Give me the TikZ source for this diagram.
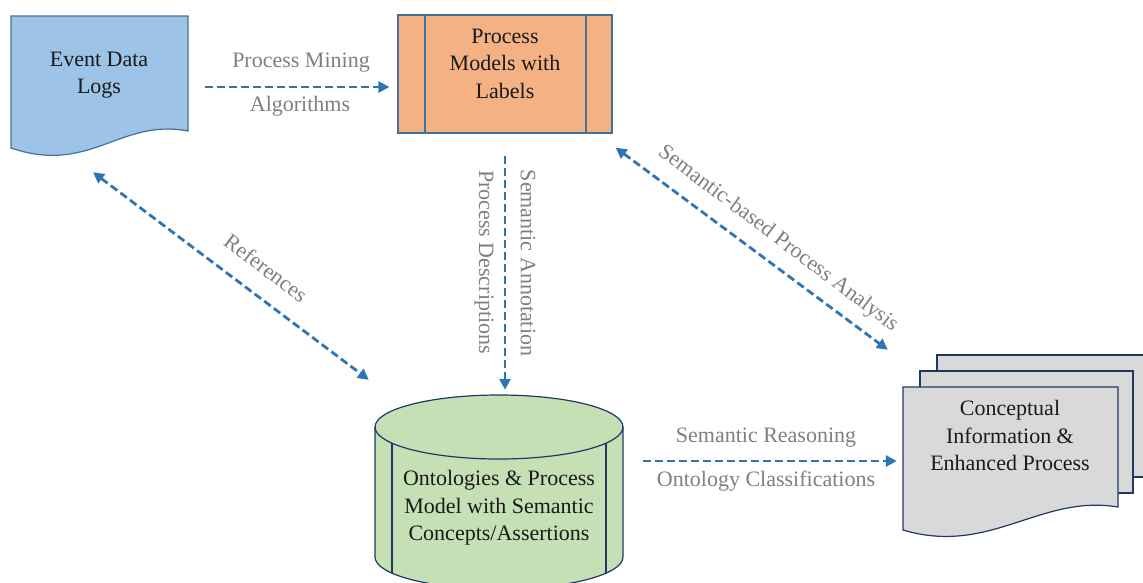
\documentclass[tikz,border=0pt]{standalone}
\usepackage{fontspec}
\setmainfont{Liberation Serif}
\usetikzlibrary{arrows.meta,calc}
\definecolor{logfill}{HTML}{9DC3E6}
\definecolor{logdraw}{HTML}{41719C}
\definecolor{pmfill}{HTML}{F4B183}
\definecolor{pmdraw}{HTML}{41719C}
\definecolor{cylfill}{HTML}{C5E0B4}
\definecolor{navy}{HTML}{203864}
\definecolor{docfill}{HTML}{D9D9D9}
\definecolor{arrblue}{HTML}{2E75B6}
\definecolor{lblgray}{HTML}{7F7F7F}
\definecolor{txt}{HTML}{1A1A1A}
\begin{document}
\begin{tikzpicture}[x=1pt,y=-1pt,
  every node/.style={font=\fontsize{22}{27.5}\selectfont, inner sep=0pt},
  boxtext/.style={text=txt, align=center},
  lbl/.style={text=lblgray, align=center},
  hold/.style={draw=none, fill=none},
  arr/.style={draw=arrblue, line width=2.8pt, dash pattern=on 8pt off 4pt,
    -{Triangle[length=11pt,width=11pt]}},
  darr/.style={draw=arrblue, line width=2.8pt, dash pattern=on 8pt off 4pt,
    {Triangle[length=11pt,width=11pt]}-{Triangle[length=11pt,width=11pt]}},
  shp/.style={line width=1.2pt, line join=miter}
]
\useasboundingbox (0,0) rectangle (1143,582);

% ---- Event Data Logs (document shape)
\draw[shp, fill=logfill, draw=logdraw]
  (11,16) -- (188,16) -- (188,131)
  .. controls (120,118) and (90,175) .. (11,148) -- cycle;
\node[hold, minimum width=177pt, minimum height=134pt] (logs) at (99.5,83) {};
\node[boxtext] (logst) at (99,75) {Event Data\\Logs};

% ---- Process Models with Labels
\node[shp, draw=pmdraw, fill=pmfill, minimum width=214pt, minimum height=118pt] (pm) at (505,74) {};
\draw[shp, draw=pmdraw] (425,15) -- (425,133);
\draw[shp, draw=pmdraw] (586,15) -- (586,133);
\node[boxtext] (pmt) at (505,63.5) {Process\\Models with\\Labels};

% ---- Cylinder
\draw[shp, draw=navy, fill=cylfill]
  (375,427) -- (375,557) arc[start angle=180, end angle=0, x radius=124, y radius=32]
  -- (623,427) arc[start angle=0, end angle=-180, x radius=124, y radius=32] -- cycle;
\draw[shp, draw=navy]
  (375,427) arc[start angle=180, end angle=0, x radius=124, y radius=32];
\draw[shp, draw=navy] (392,443.2) -- (392,573);
\draw[shp, draw=navy] (606,443.2) -- (606,573);
\node[hold, minimum width=248pt, minimum height=187pt] (cyl) at (499,488.5) {};
\node[boxtext] (cylt) at (499,508) {Ontologies \& Process\\Model with Semantic\\Concepts/Assertions};

% ---- Multi-document
\draw[shp, draw=navy, fill=docfill] (937,355) rectangle (1170,477);
\draw[shp, draw=navy, fill=docfill] (920,371) rectangle (1133,493);
\draw[shp, draw=navy, fill=docfill]
  (903,387) -- (1118,387) -- (1118,507)
  .. controls (1040,494) and (990,556) .. (903,530) -- cycle;
\node[hold, minimum width=215pt, minimum height=145pt] (cdoc) at (1010.5,459.5) {};
\node[boxtext] (cdoct) at (1010,435.5) {Conceptual\\Information \&\\Enhanced Process};

% ---- Connectors
\draw[arr] ($(logs.east)+(17,4)$) -- ($(pm.west)+(-8,13)$);
\node[lbl] (l1) at (301,63) {Process Mining};
\node[lbl] (l2) at (300,106) {Algorithms};

\draw[arr] ($(pm.south)+(0,22)$) -- ($(cyl.north)+(6,-5)$);
\node[lbl, rotate=-90] (l3) at (528,263) {Semantic Annotation};
\node[lbl, rotate=-90] (l4) at (484,262) {Process Descriptions};

\draw[darr] ($(logs.south)+(-6.5,22)$) -- ($(cyl.north west)+(-6,-15)$);
\node[lbl, rotate=-37] (l5) at (266,268) {References};

\draw[darr] ($(pm.south east)+(3,14)$) -- ($(cdoc.north west)+(-15,-37)$);
\node[lbl, rotate=-37] (l6) at (778,239) {Semantic-based Process Analysis};

\draw[arr] ($(cyl.east)+(20,-27.5)$) -- ($(cdoc.west)+(-6,1.5)$);
\node[lbl] (l7) at (766,438) {Semantic Reasoning};
\node[lbl] (l8) at (766,481) {Ontology Classifications};
\end{tikzpicture}
\end{document}
